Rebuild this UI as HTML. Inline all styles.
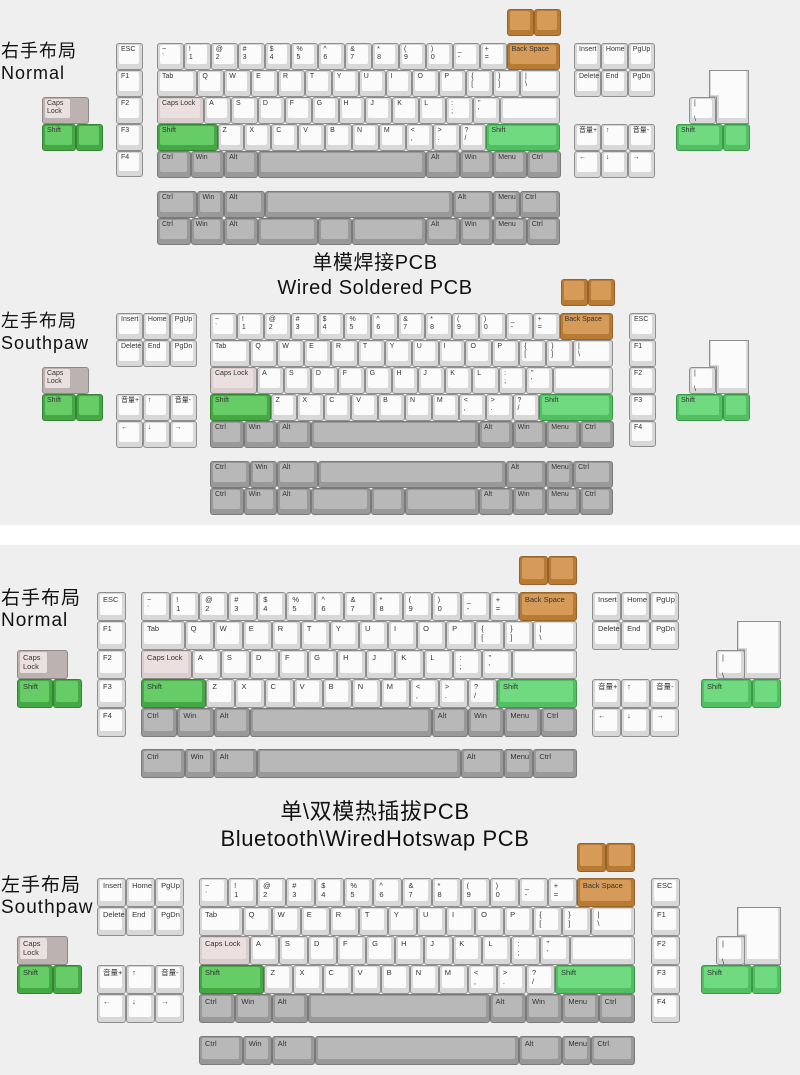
<!DOCTYPE html>
<html><head><meta charset="utf-8"><style>
body{margin:0;width:800px;height:1075px;position:relative;overflow:hidden;background:#fff;font-family:"Liberation Sans","Noto Sans CJK SC",sans-serif}
.bg{position:absolute;left:0;width:800px;background:#efefef}
.sec{position:absolute;left:0;top:0;width:800px;height:1075px}
.A{--u:26.9px}.B{--u:29.07px}
.r{position:absolute;display:flex;height:var(--u)}
.c{position:absolute;display:flex;flex-direction:column;width:var(--u)}
.k{position:relative;box-sizing:border-box;height:var(--u);width:var(--u);border:1px solid #8e8e8e;border-radius:3px;background:#d8d8d8;flex:none}
.k::before{content:"";position:absolute;left:2px;top:1px;right:3px;bottom:5px;background:#fbfbfb;border-radius:2px}
.k span{position:relative;display:block;padding:2px 0 0 4px;font:7px/8px "Liberation Sans","Noto Sans CJK SC",sans-serif;color:#333;white-space:nowrap}
.B .k span{font-size:7.5px;line-height:9px;padding-left:5px}
.w125{width:calc(var(--u)*1.25)}.w15{width:calc(var(--u)*1.5)}.w175{width:calc(var(--u)*1.75)}.w2{width:calc(var(--u)*2)}.w225{width:calc(var(--u)*2.25)}.w275{width:calc(var(--u)*2.75)}.w625{width:calc(var(--u)*6.25)}.w7{width:calc(var(--u)*7)}
.g{background:#999;border-color:#7a7a7a}.g::before{background:#b8b8b8}
.gs{background:#45a845;border-color:#348434}.gs::before{background:#66cc66}
.gl{background:#52c062;border-color:#3b9a48}.gl::before{background:#6fda80}
.o{background:#b87b36;border-color:#98632a}.o::before{background:#d69b58}
.cp{background:#d9cdcd;border-color:#8e8888}.cp::before{background:#ebdfdf}
.cs{background:#bdb2b2;border-color:#8e8888}.cs::before{background:#ebe0e0;right:40%}
.lab{position:absolute;left:1px;font-size:18px;line-height:22px;color:#111;letter-spacing:1px}
.B .lab{font-size:19px;line-height:22px}
.tt{position:absolute;left:175px;width:400px;text-align:center;color:#111;font-size:20px;line-height:25px;letter-spacing:.6px}
svg{position:absolute;left:0;top:0}
</style></head><body>
<div class="bg" style="top:0;height:525px"></div>
<div class="bg" style="top:545px;height:530px"></div>
<svg width="800" height="1075">
<g fill="#d8d8d8" stroke="#8e8e8e" stroke-width="1">
<polygon points="709.5,70.5 748.5,70.5 748.5,123.5 716.5,123.5 716.5,97 709.5,97"/>
<polygon points="709.5,340.5 748.5,340.5 748.5,393.5 716.5,393.5 716.5,367 709.5,367"/>
<polygon points="737.5,621.5 780.5,621.5 780.5,678.5 744.5,678.5 744.5,650 737.5,650"/>
<polygon points="737.5,907.5 780.5,907.5 780.5,964.5 744.5,964.5 744.5,936 737.5,936"/>
</g>
<g fill="#fbfbfb">
<polygon points="711,71 746,71 746,118 719,118 719,95 711,95"/>
<polygon points="711,341 746,341 746,388 719,388 719,365 711,365"/>
<polygon points="739,622 778,622 778,673 747,673 747,648 739,648"/>
<polygon points="739,908 778,908 778,959 747,959 747,934 739,934"/>
</g>
</svg>

<!-- SECTION 1 -->
<div class="sec A">
<div class="lab" style="top:40px">右手布局<br>Normal</div>
<div class="r" style="left:507px;top:9px"><div class="k o"></div><div class="k o"></div></div>
<div class="c" style="left:116px;top:43px"><div class="k"><span>ESC</span></div><div class="k"><span>F1</span></div><div class="k"><span>F2</span></div><div class="k"><span>F3</span></div><div class="k"><span>F4</span></div></div>
<div class="r" style="left:157px;top:43px"><div class="k"><span>~<br>`</span></div><div class="k"><span>!<br>1</span></div><div class="k"><span>@<br>2</span></div><div class="k"><span>#<br>3</span></div><div class="k"><span>$<br>4</span></div><div class="k"><span>%<br>5</span></div><div class="k"><span>^<br>6</span></div><div class="k"><span>&amp;<br>7</span></div><div class="k"><span>*<br>8</span></div><div class="k"><span>(<br>9</span></div><div class="k"><span>)<br>0</span></div><div class="k"><span>_<br>-</span></div><div class="k"><span>+<br>=</span></div><div class="k o w2"><span>Back Space</span></div></div>
<div class="r" style="left:157px;top:70px"><div class="k w15"><span>Tab</span></div><div class="k"><span>Q</span></div><div class="k"><span>W</span></div><div class="k"><span>E</span></div><div class="k"><span>R</span></div><div class="k"><span>T</span></div><div class="k"><span>Y</span></div><div class="k"><span>U</span></div><div class="k"><span>I</span></div><div class="k"><span>O</span></div><div class="k"><span>P</span></div><div class="k"><span>{<br>[</span></div><div class="k"><span>}<br>]</span></div><div class="k w15"><span>|<br>\</span></div></div>
<div class="r" style="left:157px;top:97px"><div class="k cp w175"><span>Caps Lock</span></div><div class="k"><span>A</span></div><div class="k"><span>S</span></div><div class="k"><span>D</span></div><div class="k"><span>F</span></div><div class="k"><span>G</span></div><div class="k"><span>H</span></div><div class="k"><span>J</span></div><div class="k"><span>K</span></div><div class="k"><span>L</span></div><div class="k"><span>:<br>;</span></div><div class="k"><span>"<br>'</span></div><div class="k w225"></div></div>
<div class="r" style="left:157px;top:124px"><div class="k gs w225"><span>Shift</span></div><div class="k"><span>Z</span></div><div class="k"><span>X</span></div><div class="k"><span>C</span></div><div class="k"><span>V</span></div><div class="k"><span>B</span></div><div class="k"><span>N</span></div><div class="k"><span>M</span></div><div class="k"><span>&lt;<br>,</span></div><div class="k"><span>&gt;<br>.</span></div><div class="k"><span>?<br>/</span></div><div class="k gl w275"><span>Shift</span></div></div>
<div class="r" style="left:157px;top:151px"><div class="k g w125"><span>Ctrl</span></div><div class="k g w125"><span>Win</span></div><div class="k g w125"><span>Alt</span></div><div class="k g w625"></div><div class="k g w125"><span>Alt</span></div><div class="k g w125"><span>Win</span></div><div class="k g w125"><span>Menu</span></div><div class="k g w125"><span>Ctrl</span></div></div>
<div class="r" style="left:157px;top:191px"><div class="k g w15"><span>Ctrl</span></div><div class="k g"><span>Win</span></div><div class="k g w15"><span>Alt</span></div><div class="k g w7"></div><div class="k g w15"><span>Alt</span></div><div class="k g"><span>Menu</span></div><div class="k g w15"><span>Ctrl</span></div></div>
<div class="r" style="left:157px;top:218px"><div class="k g w125"><span>Ctrl</span></div><div class="k g w125"><span>Win</span></div><div class="k g w125"><span>Alt</span></div><div class="k g w225"></div><div class="k g w125"></div><div class="k g w275"></div><div class="k g w125"><span>Alt</span></div><div class="k g w125"><span>Win</span></div><div class="k g w125"><span>Menu</span></div><div class="k g w125"><span>Ctrl</span></div></div>
<div class="r" style="left:574px;top:43px"><div class="k"><span>Insert</span></div><div class="k"><span>Home</span></div><div class="k"><span>PgUp</span></div></div>
<div class="r" style="left:574px;top:70px"><div class="k"><span>Delete</span></div><div class="k"><span>End</span></div><div class="k"><span>PgDn</span></div></div>
<div class="r" style="left:574px;top:124px"><div class="k"><span>音量+</span></div><div class="k"><span>↑</span></div><div class="k"><span>音量-</span></div></div>
<div class="r" style="left:574px;top:151px"><div class="k"><span>←</span></div><div class="k"><span>↓</span></div><div class="k"><span>→</span></div></div>
<div class="r" style="left:689px;top:97px"><div class="k"><span>|<br><br>\</span></div></div>
<div class="r" style="left:676px;top:124px"><div class="k gl w175"><span>Shift</span></div><div class="k gl"></div></div>
<div class="r" style="left:42px;top:97px"><div class="k cs w175"><span>Caps<br>Lock</span></div></div>
<div class="r" style="left:42px;top:124px"><div class="k gs w125"><span>Shift</span></div><div class="k gs"></div></div>
</div>

<!-- SECTION 2 -->
<div class="sec A">
<div class="tt" style="top:251px">单模焊接PCB<br>Wired Soldered PCB</div>
<div class="lab" style="top:310px">左手布局<br>Southpaw</div>
<div class="r" style="left:561px;top:279px"><div class="k o"></div><div class="k o"></div></div>
<div class="c" style="left:629px;top:313px"><div class="k"><span>ESC</span></div><div class="k"><span>F1</span></div><div class="k"><span>F2</span></div><div class="k"><span>F3</span></div><div class="k"><span>F4</span></div></div>
<div class="r" style="left:210px;top:313px"><div class="k"><span>~<br>`</span></div><div class="k"><span>!<br>1</span></div><div class="k"><span>@<br>2</span></div><div class="k"><span>#<br>3</span></div><div class="k"><span>$<br>4</span></div><div class="k"><span>%<br>5</span></div><div class="k"><span>^<br>6</span></div><div class="k"><span>&amp;<br>7</span></div><div class="k"><span>*<br>8</span></div><div class="k"><span>(<br>9</span></div><div class="k"><span>)<br>0</span></div><div class="k"><span>_<br>-</span></div><div class="k"><span>+<br>=</span></div><div class="k o w2"><span>Back Space</span></div></div>
<div class="r" style="left:210px;top:340px"><div class="k w15"><span>Tab</span></div><div class="k"><span>Q</span></div><div class="k"><span>W</span></div><div class="k"><span>E</span></div><div class="k"><span>R</span></div><div class="k"><span>T</span></div><div class="k"><span>Y</span></div><div class="k"><span>U</span></div><div class="k"><span>I</span></div><div class="k"><span>O</span></div><div class="k"><span>P</span></div><div class="k"><span>{<br>[</span></div><div class="k"><span>}<br>]</span></div><div class="k w15"><span>|<br>\</span></div></div>
<div class="r" style="left:210px;top:367px"><div class="k cp w175"><span>Caps Lock</span></div><div class="k"><span>A</span></div><div class="k"><span>S</span></div><div class="k"><span>D</span></div><div class="k"><span>F</span></div><div class="k"><span>G</span></div><div class="k"><span>H</span></div><div class="k"><span>J</span></div><div class="k"><span>K</span></div><div class="k"><span>L</span></div><div class="k"><span>:<br>;</span></div><div class="k"><span>"<br>'</span></div><div class="k w225"></div></div>
<div class="r" style="left:210px;top:394px"><div class="k gs w225"><span>Shift</span></div><div class="k"><span>Z</span></div><div class="k"><span>X</span></div><div class="k"><span>C</span></div><div class="k"><span>V</span></div><div class="k"><span>B</span></div><div class="k"><span>N</span></div><div class="k"><span>M</span></div><div class="k"><span>&lt;<br>,</span></div><div class="k"><span>&gt;<br>.</span></div><div class="k"><span>?<br>/</span></div><div class="k gl w275"><span>Shift</span></div></div>
<div class="r" style="left:210px;top:421px"><div class="k g w125"><span>Ctrl</span></div><div class="k g w125"><span>Win</span></div><div class="k g w125"><span>Alt</span></div><div class="k g w625"></div><div class="k g w125"><span>Alt</span></div><div class="k g w125"><span>Win</span></div><div class="k g w125"><span>Menu</span></div><div class="k g w125"><span>Ctrl</span></div></div>
<div class="r" style="left:210px;top:461px"><div class="k g w15"><span>Ctrl</span></div><div class="k g"><span>Win</span></div><div class="k g w15"><span>Alt</span></div><div class="k g w7"></div><div class="k g w15"><span>Alt</span></div><div class="k g"><span>Menu</span></div><div class="k g w15"><span>Ctrl</span></div></div>
<div class="r" style="left:210px;top:488px"><div class="k g w125"><span>Ctrl</span></div><div class="k g w125"><span>Win</span></div><div class="k g w125"><span>Alt</span></div><div class="k g w225"></div><div class="k g w125"></div><div class="k g w275"></div><div class="k g w125"><span>Alt</span></div><div class="k g w125"><span>Win</span></div><div class="k g w125"><span>Menu</span></div><div class="k g w125"><span>Ctrl</span></div></div>
<div class="r" style="left:116px;top:313px"><div class="k"><span>Insert</span></div><div class="k"><span>Home</span></div><div class="k"><span>PgUp</span></div></div>
<div class="r" style="left:116px;top:340px"><div class="k"><span>Delete</span></div><div class="k"><span>End</span></div><div class="k"><span>PgDn</span></div></div>
<div class="r" style="left:116px;top:394px"><div class="k"><span>音量+</span></div><div class="k"><span>↑</span></div><div class="k"><span>音量-</span></div></div>
<div class="r" style="left:116px;top:421px"><div class="k"><span>←</span></div><div class="k"><span>↓</span></div><div class="k"><span>→</span></div></div>
<div class="r" style="left:689px;top:367px"><div class="k"><span>|<br><br>\</span></div></div>
<div class="r" style="left:676px;top:394px"><div class="k gl w175"><span>Shift</span></div><div class="k gl"></div></div>
<div class="r" style="left:42px;top:367px"><div class="k cs w175"><span>Caps<br>Lock</span></div></div>
<div class="r" style="left:42px;top:394px"><div class="k gs w125"><span>Shift</span></div><div class="k gs"></div></div>
</div>

<!-- SECTION 3 -->
<div class="sec B">
<div class="lab" style="top:588px">右手布局<br>Normal</div>
<div class="r" style="left:519px;top:556px"><div class="k o"></div><div class="k o"></div></div>
<div class="c" style="left:97px;top:592px"><div class="k"><span>ESC</span></div><div class="k"><span>F1</span></div><div class="k"><span>F2</span></div><div class="k"><span>F3</span></div><div class="k"><span>F4</span></div></div>
<div class="r" style="left:141px;top:592px"><div class="k"><span>~<br>`</span></div><div class="k"><span>!<br>1</span></div><div class="k"><span>@<br>2</span></div><div class="k"><span>#<br>3</span></div><div class="k"><span>$<br>4</span></div><div class="k"><span>%<br>5</span></div><div class="k"><span>^<br>6</span></div><div class="k"><span>&amp;<br>7</span></div><div class="k"><span>*<br>8</span></div><div class="k"><span>(<br>9</span></div><div class="k"><span>)<br>0</span></div><div class="k"><span>_<br>-</span></div><div class="k"><span>+<br>=</span></div><div class="k o w2"><span>Back Space</span></div></div>
<div class="r" style="left:141px;top:621px"><div class="k w15"><span>Tab</span></div><div class="k"><span>Q</span></div><div class="k"><span>W</span></div><div class="k"><span>E</span></div><div class="k"><span>R</span></div><div class="k"><span>T</span></div><div class="k"><span>Y</span></div><div class="k"><span>U</span></div><div class="k"><span>I</span></div><div class="k"><span>O</span></div><div class="k"><span>P</span></div><div class="k"><span>{<br>[</span></div><div class="k"><span>}<br>]</span></div><div class="k w15"><span>|<br>\</span></div></div>
<div class="r" style="left:141px;top:650px"><div class="k cp w175"><span>Caps Lock</span></div><div class="k"><span>A</span></div><div class="k"><span>S</span></div><div class="k"><span>D</span></div><div class="k"><span>F</span></div><div class="k"><span>G</span></div><div class="k"><span>H</span></div><div class="k"><span>J</span></div><div class="k"><span>K</span></div><div class="k"><span>L</span></div><div class="k"><span>:<br>;</span></div><div class="k"><span>"<br>'</span></div><div class="k w225"></div></div>
<div class="r" style="left:141px;top:679px"><div class="k gs w225"><span>Shift</span></div><div class="k"><span>Z</span></div><div class="k"><span>X</span></div><div class="k"><span>C</span></div><div class="k"><span>V</span></div><div class="k"><span>B</span></div><div class="k"><span>N</span></div><div class="k"><span>M</span></div><div class="k"><span>&lt;<br>,</span></div><div class="k"><span>&gt;<br>.</span></div><div class="k"><span>?<br>/</span></div><div class="k gl w275"><span>Shift</span></div></div>
<div class="r" style="left:141px;top:708px"><div class="k g w125"><span>Ctrl</span></div><div class="k g w125"><span>Win</span></div><div class="k g w125"><span>Alt</span></div><div class="k g w625"></div><div class="k g w125"><span>Alt</span></div><div class="k g w125"><span>Win</span></div><div class="k g w125"><span>Menu</span></div><div class="k g w125"><span>Ctrl</span></div></div>
<div class="r" style="left:141px;top:749px"><div class="k g w15"><span>Ctrl</span></div><div class="k g"><span>Win</span></div><div class="k g w15"><span>Alt</span></div><div class="k g w7"></div><div class="k g w15"><span>Alt</span></div><div class="k g"><span>Menu</span></div><div class="k g w15"><span>Ctrl</span></div></div>
<div class="r" style="left:592px;top:592px"><div class="k"><span>Insert</span></div><div class="k"><span>Home</span></div><div class="k"><span>PgUp</span></div></div>
<div class="r" style="left:592px;top:621px"><div class="k"><span>Delete</span></div><div class="k"><span>End</span></div><div class="k"><span>PgDn</span></div></div>
<div class="r" style="left:592px;top:679px"><div class="k"><span>音量+</span></div><div class="k"><span>↑</span></div><div class="k"><span>音量-</span></div></div>
<div class="r" style="left:592px;top:708px"><div class="k"><span>←</span></div><div class="k"><span>↓</span></div><div class="k"><span>→</span></div></div>
<div class="r" style="left:716px;top:650px"><div class="k"><span>|<br><br>\</span></div></div>
<div class="r" style="left:701px;top:679px"><div class="k gl w175"><span>Shift</span></div><div class="k gl"></div></div>
<div class="r" style="left:17px;top:650px"><div class="k cs w175"><span>Caps<br>Lock</span></div></div>
<div class="r" style="left:17px;top:679px"><div class="k gs w125"><span>Shift</span></div><div class="k gs"></div></div>
</div>

<!-- SECTION 4 -->
<div class="sec B">
<div class="tt" style="top:798px;font-size:22px;line-height:27px;left:125px;width:500px">单\双模热插拔PCB<br>Bluetooth\WiredHotswap PCB</div>
<div class="lab" style="top:875px">左手布局<br>Southpaw</div>
<div class="r" style="left:577px;top:843px"><div class="k o"></div><div class="k o"></div></div>
<div class="c" style="left:651px;top:878px"><div class="k"><span>ESC</span></div><div class="k"><span>F1</span></div><div class="k"><span>F2</span></div><div class="k"><span>F3</span></div><div class="k"><span>F4</span></div></div>
<div class="r" style="left:199px;top:878px"><div class="k"><span>~<br>`</span></div><div class="k"><span>!<br>1</span></div><div class="k"><span>@<br>2</span></div><div class="k"><span>#<br>3</span></div><div class="k"><span>$<br>4</span></div><div class="k"><span>%<br>5</span></div><div class="k"><span>^<br>6</span></div><div class="k"><span>&amp;<br>7</span></div><div class="k"><span>*<br>8</span></div><div class="k"><span>(<br>9</span></div><div class="k"><span>)<br>0</span></div><div class="k"><span>_<br>-</span></div><div class="k"><span>+<br>=</span></div><div class="k o w2"><span>Back Space</span></div></div>
<div class="r" style="left:199px;top:907px"><div class="k w15"><span>Tab</span></div><div class="k"><span>Q</span></div><div class="k"><span>W</span></div><div class="k"><span>E</span></div><div class="k"><span>R</span></div><div class="k"><span>T</span></div><div class="k"><span>Y</span></div><div class="k"><span>U</span></div><div class="k"><span>I</span></div><div class="k"><span>O</span></div><div class="k"><span>P</span></div><div class="k"><span>{<br>[</span></div><div class="k"><span>}<br>]</span></div><div class="k w15"><span>|<br>\</span></div></div>
<div class="r" style="left:199px;top:936px"><div class="k cp w175"><span>Caps Lock</span></div><div class="k"><span>A</span></div><div class="k"><span>S</span></div><div class="k"><span>D</span></div><div class="k"><span>F</span></div><div class="k"><span>G</span></div><div class="k"><span>H</span></div><div class="k"><span>J</span></div><div class="k"><span>K</span></div><div class="k"><span>L</span></div><div class="k"><span>:<br>;</span></div><div class="k"><span>"<br>'</span></div><div class="k w225"></div></div>
<div class="r" style="left:199px;top:965px"><div class="k gs w225"><span>Shift</span></div><div class="k"><span>Z</span></div><div class="k"><span>X</span></div><div class="k"><span>C</span></div><div class="k"><span>V</span></div><div class="k"><span>B</span></div><div class="k"><span>N</span></div><div class="k"><span>M</span></div><div class="k"><span>&lt;<br>,</span></div><div class="k"><span>&gt;<br>.</span></div><div class="k"><span>?<br>/</span></div><div class="k gl w275"><span>Shift</span></div></div>
<div class="r" style="left:199px;top:994px"><div class="k g w125"><span>Ctrl</span></div><div class="k g w125"><span>Win</span></div><div class="k g w125"><span>Alt</span></div><div class="k g w625"></div><div class="k g w125"><span>Alt</span></div><div class="k g w125"><span>Win</span></div><div class="k g w125"><span>Menu</span></div><div class="k g w125"><span>Ctrl</span></div></div>
<div class="r" style="left:199px;top:1036px"><div class="k g w15"><span>Ctrl</span></div><div class="k g"><span>Win</span></div><div class="k g w15"><span>Alt</span></div><div class="k g w7"></div><div class="k g w15"><span>Alt</span></div><div class="k g"><span>Menu</span></div><div class="k g w15"><span>Ctrl</span></div></div>
<div class="r" style="left:97px;top:878px"><div class="k"><span>Insert</span></div><div class="k"><span>Home</span></div><div class="k"><span>PgUp</span></div></div>
<div class="r" style="left:97px;top:907px"><div class="k"><span>Delete</span></div><div class="k"><span>End</span></div><div class="k"><span>PgDn</span></div></div>
<div class="r" style="left:97px;top:965px"><div class="k"><span>音量+</span></div><div class="k"><span>↑</span></div><div class="k"><span>音量-</span></div></div>
<div class="r" style="left:97px;top:994px"><div class="k"><span>←</span></div><div class="k"><span>↓</span></div><div class="k"><span>→</span></div></div>
<div class="r" style="left:716px;top:936px"><div class="k"><span>|<br><br>\</span></div></div>
<div class="r" style="left:701px;top:965px"><div class="k gl w175"><span>Shift</span></div><div class="k gl"></div></div>
<div class="r" style="left:17px;top:936px"><div class="k cs w175"><span>Caps<br>Lock</span></div></div>
<div class="r" style="left:17px;top:965px"><div class="k gs w125"><span>Shift</span></div><div class="k gs"></div></div>
</div>
</body></html>
